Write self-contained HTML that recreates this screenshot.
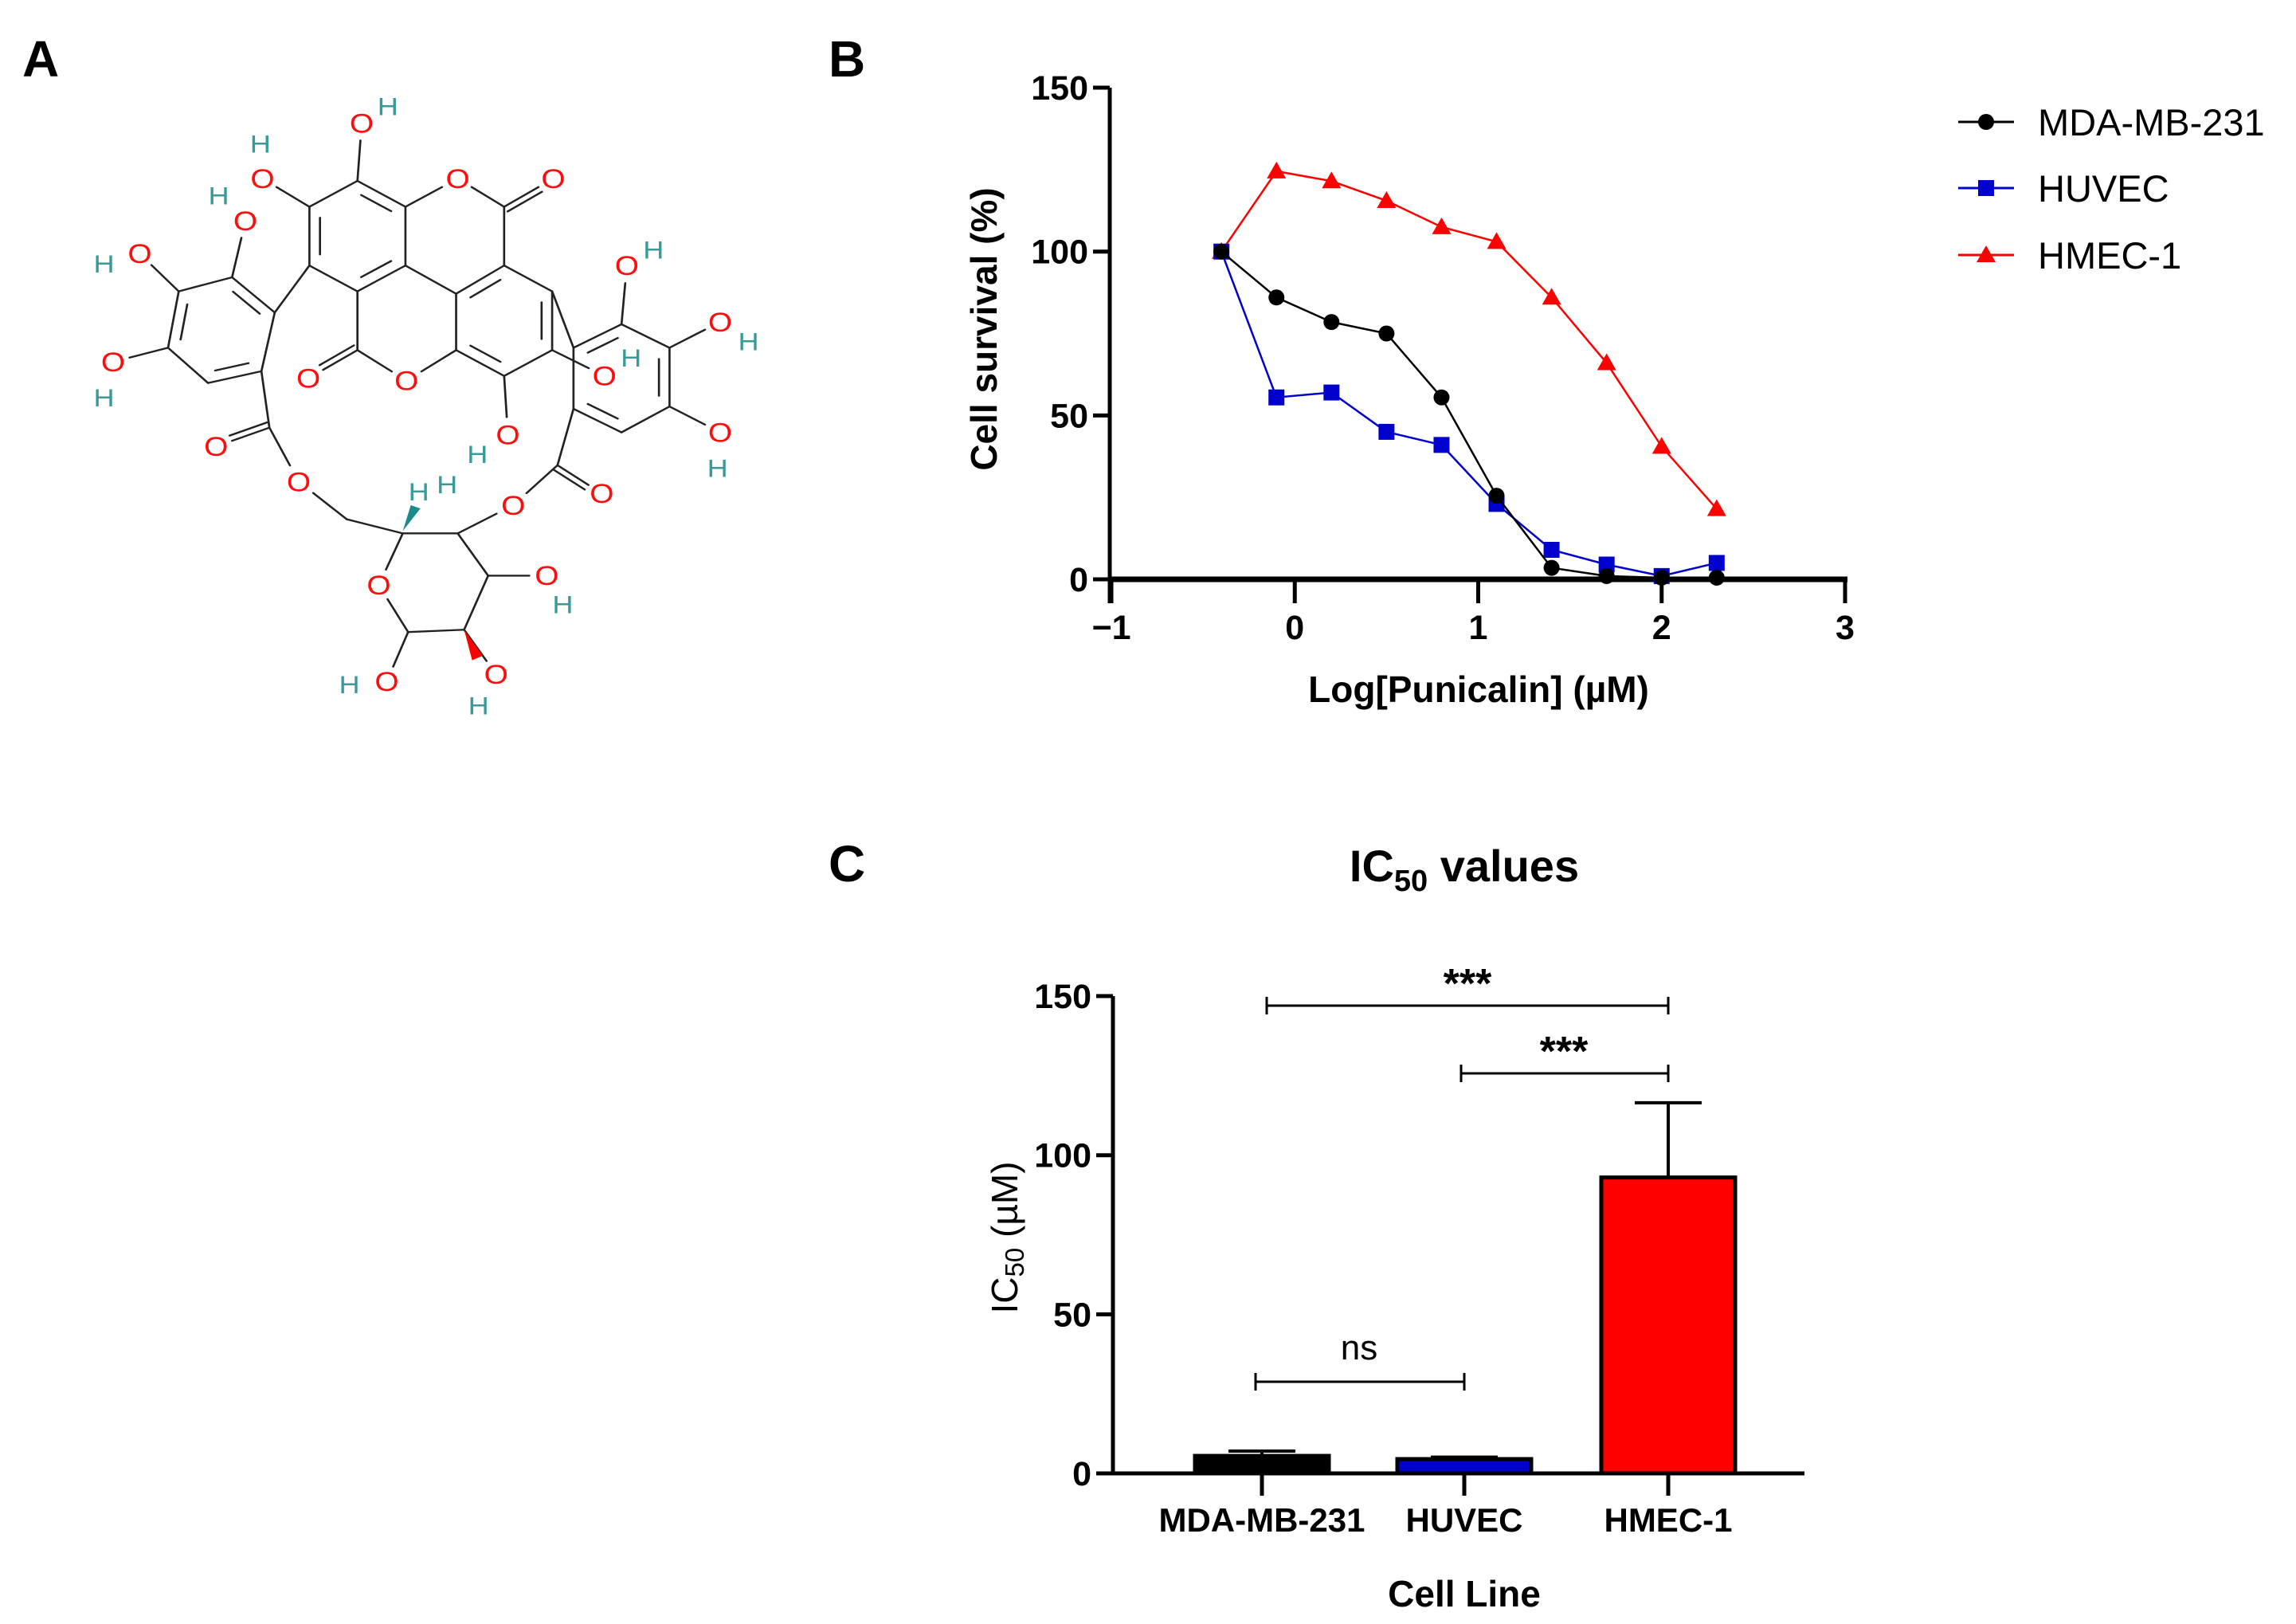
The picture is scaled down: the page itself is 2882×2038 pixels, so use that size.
<!DOCTYPE html>
<html><head><meta charset="utf-8"><style>
html,body{margin:0;padding:0;background:#fff;}
svg{display:block;font-family:"Liberation Sans",Arial,sans-serif;}
</style></head><body>
<svg id="root" width="2882" height="2038" viewBox="0 0 2882 2038">
<text x="28" y="96" font-size="64" font-weight="bold">A</text>
<text x="1040" y="96" font-size="64" font-weight="bold">B</text>
<text x="1040" y="1106" font-size="64" font-weight="bold">C</text>
<svg id="mol" x="0" y="0" width="1050" height="920" viewBox="0 0 1568 1560" preserveAspectRatio="none"></svg>
<g id="chartB"></g>
<g id="chartC"></g>
</svg>
<script>
// ---- Chart B data ----
const logConc = [-0.4,-0.1,0.2,0.5,0.8,1.1,1.4,1.7,2.0,2.3];
const mdaSurvival = [100,86,78.5,75,55.5,25.5,3.5,1,0.5,0.5];
const huvecSurvival = [100,55.5,57,45,41,23,9,4.5,1,5];
const hmecSurvival = [100,124.5,121.5,115.5,107.5,103,86,66,40.5,21.5];
const xTicksB = [-1,0,1,2,3];
const xTickLabelsB = ["\u22121","0","1","2","3"];
const yTicksB = [0,50,100,150];
// ---- Chart C data ----
const cellLines = ["MDA-MB-231","HUVEC","HMEC-1"];
const ic50Values = [5.5,4.5,93];
const ic50Errors = [1.5,0.6,23.5];
const yTicksC = [0,50,100,150];

const NS="http://www.w3.org/2000/svg";
function mk(tag,attrs,parent,txt){const e=document.createElementNS(NS,tag);for(const k in attrs)e.setAttribute(k,attrs[k]);if(txt!==undefined)e.textContent=txt;parent.appendChild(e);return e;}

// ---------- Chart B ----------
(function(){
const g=document.getElementById('chartB');
const xs=v=>1395+(v+1)*230.25, ys=v=>727-v*4.113;
let e;
e=mk('line',{x1:1393,y1:ys(150),x2:1393,y2:757,stroke:'#000','stroke-width':5},g);
 
e=mk('line',{x1:1393,y1:727,x2:xs(3)+3,y2:727,stroke:'#000','stroke-width':7},g);
 
yTicksB.forEach(t=>{
 e=mk('line',{x1:1372,y1:ys(t),x2:1393,y2:ys(t),stroke:'#000','stroke-width':5},g);
  
 e=mk('text',{x:1366,y:ys(t)+15,'font-size':43,'font-weight':'bold','text-anchor':'end'},g,String(t));
  
});
xTicksB.forEach((t,i)=>{
 e=mk('line',{x1:xs(t),y1:727,x2:xs(t),y2:757,stroke:'#000','stroke-width':5},g);
  
 e=mk('text',{x:xs(t),y:802,'font-size':43,'font-weight':'bold','text-anchor':'middle'},g,xTickLabelsB[i]);
  
});
e=mk('text',{x:1856,y:881,'font-size':46,'font-weight':'bold','text-anchor':'middle'},g,'Log[Punicalin] (\u00b5M)');
 
e=mk('text',{x:0,y:0,'font-size':46,'font-weight':'bold','text-anchor':'middle',transform:'translate(1251,413) rotate(-90)'},g,'Cell survival (%)');
 
function marker(parent,type,cx,cy,col){
 if(type==='c') return mk('circle',{cx:cx,cy:cy,r:10,fill:col},parent);
 if(type==='s') return mk('rect',{x:cx-10,y:cy-10,width:20,height:20,fill:col},parent);
 return mk('polygon',{points:`${cx},${cy-12} ${cx-12},${cy+9} ${cx+12},${cy+9}`,fill:col},parent);
}
const series=[[hmecSurvival,'#ff0000','t','hmec'],[huvecSurvival,'#0000cc','s','huvec'],[mdaSurvival,'#000','c','mda']];
series.forEach(([vals,col,type,nm])=>{
 e=mk('polyline',{points:vals.map((v,i)=>xs(logConc[i])+','+ys(v)).join(' '),fill:'none',stroke:col,'stroke-width':2.5},g);
  
 vals.forEach((v,i)=>{e=marker(g,type,xs(logConc[i]),ys(v),col);
   });
});
const leg=[['MDA-MB-231','#000','c',153],['HUVEC','#0000cc','s',236],['HMEC-1','#ff0000','t',320]];
leg.forEach(([t,col,type,y])=>{
 const lg=mk('g',{},g);  
 mk('line',{x1:2458,y1:y,x2:2528,y2:y,stroke:col,'stroke-width':3},lg);
 marker(lg,type,2493,y,col);
 mk('text',{x:2558,y:y+17,'font-size':47},lg,t);
});
})();

// ---------- Chart C ----------
(function(){
const g=document.getElementById('chartC');
const cx=[1584,1838,2094], ys=v=>1849-v*3.993;
let e;
e=mk('line',{x1:1397,y1:ys(150),x2:1397,y2:1851,stroke:'#000','stroke-width':5},g);
 
e=mk('line',{x1:1395,y1:1849,x2:2265,y2:1849,stroke:'#000','stroke-width':5},g);
 
yTicksC.forEach(t=>{
 e=mk('line',{x1:1376,y1:ys(t),x2:1397,y2:ys(t),stroke:'#000','stroke-width':5},g);
  
 e=mk('text',{x:1370,y:ys(t)+15,'font-size':43,'font-weight':'bold','text-anchor':'end'},g,String(t));
  
});
const cols=['#000','#0000cc','#ff0000'];
cellLines.forEach((c,i)=>{
 const top=ys(ic50Values[i]+ic50Errors[i]);
 e=mk('line',{x1:cx[i],y1:top,x2:cx[i],y2:ys(ic50Values[i]),stroke:'#000','stroke-width':4},g);
  
 e=mk('line',{x1:cx[i]-42,y1:top,x2:cx[i]+42,y2:top,stroke:'#000','stroke-width':4},g);
  
 e=mk('rect',{x:cx[i]-84,y:ys(ic50Values[i]),width:168,height:1849-ys(ic50Values[i]),fill:cols[i],stroke:'#000','stroke-width':5},g);
  
 e=mk('line',{x1:cx[i],y1:1849,x2:cx[i],y2:1877,stroke:'#000','stroke-width':5},g);
  
 e=mk('text',{x:cx[i],y:1922,'font-size':42,'font-weight':'bold','text-anchor':'middle'},g,c);
  
});
function sig(x1,x2,y,label,ty,tx,fs,bold){
 const sg=mk('g',{},g);  
 mk('line',{x1:x1,y1:y,x2:x2,y2:y,stroke:'#000','stroke-width':3},sg);
 mk('line',{x1:x1,y1:y-11,x2:x1,y2:y+11,stroke:'#000','stroke-width':3},sg);
 mk('line',{x1:x2,y1:y-11,x2:x2,y2:y+11,stroke:'#000','stroke-width':3},sg);
 mk('text',{x:tx,y:ty,'font-size':fs,'font-weight':bold?'bold':'normal','text-anchor':'middle'},sg,label);
}
sig(1590,2094,1262,'***',1252,1842,52,true);
sig(1834,2094,1347,'***',1337,1963,52,true);
sig(1576,1838,1734,'ns',1706,1706,44,false);
e=mk('text',{x:1838,y:1106,'font-size':56,'font-weight':'bold','text-anchor':'middle'},g);
e.innerHTML='IC<tspan font-size="38" dy="12">50</tspan><tspan dy="-12"> values</tspan>';
 
e=mk('text',{x:1838,y:2016,'font-size':46,'font-weight':'bold','text-anchor':'middle'},g,'Cell Line');
 
e=mk('text',{x:0,y:0,'font-size':46,'text-anchor':'middle',transform:'translate(1277,1553) rotate(-90)'},g);
e.innerHTML='IC<tspan font-size="33" dy="8">50</tspan><tspan dy="-8"> (\u00b5M)</tspan>';
 
})();

// ---------- Molecule ----------
(function(){
const m=document.getElementById('mol');
const P={a1:[670,385],a2:[580,440],a3:[580,565],a4:[670,620],a5:[760,565],a6:[760,440],
Ot:[858,380],c1:[945,440],Oc1:[1037,380],b1:[855,625],b2:[945,565],b3:[1035,620],b4:[1035,745],b5:[945,800],b6:[855,745],
d1:[670,745],Od1:[578,805],Ob:[762,810],
O1:[678,262],O2:[492,380],O5:[952,925],O4:[1133,800],
r1:[1075,740],r2:[1165,690],r3:[1255,740],r4:[1255,865],r5:[1165,920],r6:[1075,870],
Or2:[1175,565],Or3:[1350,685],Or4:[1350,920],
l1:[515,665],l2:[435,590],l3:[335,620],l4:[315,740],l5:[390,815],l6:[490,790],
Ol2:[460,470],Ol3:[262,540],Ol4:[212,770],
e1:[505,910],Oe1:[405,950],Oe1b:[560,1025],ch:[650,1105],
e2:[1045,990],Oe2:[1128,1050],Oe2b:[962,1075],
s1:[755,1135],s2:[858,1135],s3:[915,1225],s4:[870,1340],s5:[765,1345],Os:[710,1245],
Os3:[1025,1225],Os4:[930,1435],Os5:[725,1450]};
const bonds=[['a1','a2'],['a2','a3'],['a3','a4'],['a4','a5'],['a5','a6'],['a6','a1'],['a6','Ot'],['Ot','c1'],['c1','b2'],['a5','b1'],
['b1','b2'],['b2','b3'],['b3','b4'],['b4','b5'],['b5','b6'],['b6','b1'],['a4','d1'],['d1','Ob'],['Ob','b6'],
['a1','O1'],['a2','O2'],['b5','O5'],['b4','O4'],['b3','r1'],
['r1','r2'],['r2','r3'],['r3','r4'],['r4','r5'],['r5','r6'],['r6','r1'],['r2','Or2'],['r3','Or3'],['r4','Or4'],
['a3','l1'],['l1','l2'],['l2','l3'],['l3','l4'],['l4','l5'],['l5','l6'],['l6','l1'],['l2','Ol2'],['l3','Ol3'],['l4','Ol4'],
['l6','e1'],['e1','Oe1b'],['Oe1b','ch'],['ch','s1'],['r6','e2'],['e2','Oe2b'],['Oe2b','s2'],
['s1','s2'],['s2','s3'],['s3','s4'],['s4','s5'],['s5','Os'],['Os','s1'],['s3','Os3'],['s4','Os4'],['s5','Os5']];
const dbl=[['c1','Oc1'],['d1','Od1'],['e1','Oe1'],['e2','Oe2']];
const bg=mk('g',{stroke:'#222','stroke-width':4,'stroke-linecap':'round'},m);
const sh=(p,q,f)=>{const A=P[p],B=P[q];return [A[0]+(B[0]-A[0])*f,A[1]+(B[1]-A[1])*f];};
const isO=n=>n[0]==='O';
bonds.forEach(([p,q])=>{
 let a=P[p],b=P[q];
 if(isO(p))a=sh(p,q,0.3); if(isO(q))b=sh(q,p,0.3);
 mk('line',{x1:a[0],y1:a[1],x2:b[0],y2:b[1]},bg);});
dbl.forEach(([p,q])=>{const A=P[p],B=P[q];const dx=B[0]-A[0],dy=B[1]-A[1],L=Math.hypot(dx,dy);const nx=-dy/L*12,ny=dx/L*12;
 const b=sh(q,p,0.3);
 mk('line',{x1:A[0],y1:A[1],x2:b[0],y2:b[1]},bg);
 mk('line',{x1:A[0]+nx,y1:A[1]+ny,x2:b[0]+nx,y2:b[1]+ny},bg);});
const ctr={a:[670,502],b:[945,682],l:[415,703],r:[1165,805]};
[['a1','a6','a'],['a2','a3','a'],['a4','a5','a'],['b1','b2','b'],['b3','b4','b'],['b5','b6','b'],['l1','l2','l'],['l3','l4','l'],['l5','l6','l'],['r1','r2','r'],['r3','r4','r'],['r5','r6','r']].forEach(([p,q,c])=>{
 const A=P[p],B=P[q],C=ctr[c];
 const mA=[A[0]+(C[0]-A[0])*0.22,A[1]+(C[1]-A[1])*0.22], mB=[B[0]+(C[0]-B[0])*0.22,B[1]+(C[1]-B[1])*0.22];
 mk('line',{x1:mA[0]+(mB[0]-mA[0])*0.1,y1:mA[1]+(mB[1]-mA[1])*0.1,x2:mA[0]+(mB[0]-mA[0])*0.9,y2:mA[1]+(mB[1]-mA[1])*0.9},bg);});
const Os=['O1','O2','Ot','Oc1','Od1','Ob','O5','O4','Or2','Or3','Or4','Ol2','Ol3','Ol4','Oe1','Oe1b','Oe2','Oe2b','Os','Os3','Os4','Os5'];
Os.forEach(k=>mk('text',{x:P[k][0],y:P[k][1]+20,'font-size':58,fill:'#ff0d0d','text-anchor':'middle'},m,'O'));
const Hs=[[727,245],[488,325],[410,435],[195,580],[195,865],[1225,550],[1403,745],[1345,1015],[1183,780],[895,985],[1055,1305],[897,1520],[655,1475],[785,1065],[838,1050]];
Hs.forEach(([x,y])=>mk('text',{x:x,y:y,'font-size':54,fill:'#3a9a9a','text-anchor':'middle'},m,'H'));
mk('polygon',{points:'755,1130 770,1075 788,1082',fill:'#1a8a8a'},m);
mk('polygon',{points:'870,1340 905,1395 885,1405',fill:'#ff0000'},m);
})();
</script>
</body></html>
